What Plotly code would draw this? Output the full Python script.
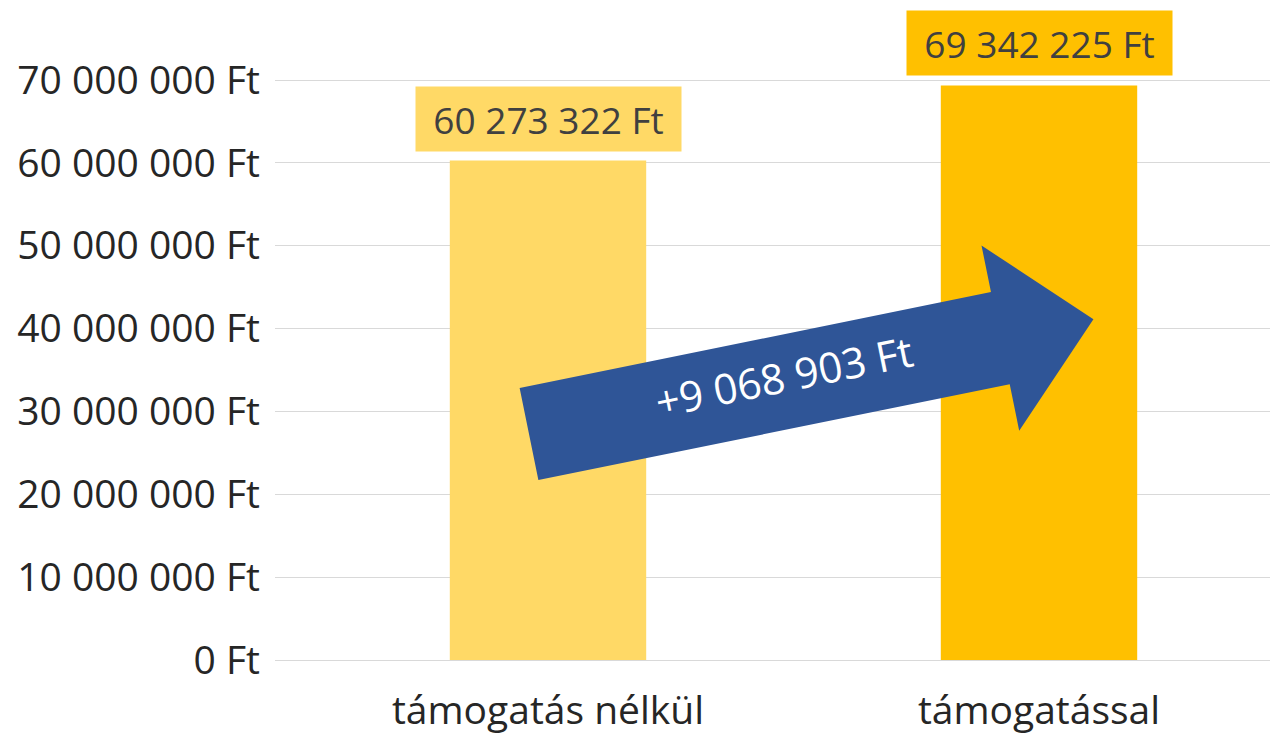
import math
import plotly.graph_objects as go

# ---- data ----
categories = ["támogatás nélkül", "támogatással"]
values = [60273322, 69342225]
bar_colors = ["#FFD966", "#FFC000"]
y_ticks = [0, 10000000, 20000000, 30000000, 40000000, 50000000, 60000000, 70000000]
diff_label = "+9 068 903 Ft"


def fmt_ft(v):
    return f"{v:,}".replace(",", " ") + " Ft"


# page body has an 8px margin; layout targets are given in figure space
W, H = 1278, 738
ML, MR, MT, MB = 267, 0, 0, 86
PW, PH = W - ML - MR, H - MT - MB
PX_PER_CAT = 491.0
CAT0_PX = 540.0
PX_PER_UNIT_Y = 580.0 / 70000000

x0 = -(CAT0_PX - ML) / PX_PER_CAT
x1 = x0 + PW / PX_PER_CAT
ymax = PH / PX_PER_UNIT_Y

fig = go.Figure()
fig.add_trace(go.Bar(
    x=categories, y=values, marker=dict(color=bar_colors, line=dict(width=0)),
    width=0.4, hoverinfo="skip", showlegend=False,
))

# data labels with background boxes
for i, (c, v) in enumerate(zip(categories, values)):
    fig.add_annotation(
        x=c, y=v, xref="x", yref="y", text=fmt_ft(v), showarrow=False,
        yanchor="bottom", yshift=9, width=257, height=56,
        font=dict(family="Open Sans", size=37, color="#404040"),
        bgcolor=bar_colors[i], borderpad=4,
    )

# ---- arrow (decoration), geometry in pixel space -> paper coords ----
tail = (521.0, 426.0)
ang = math.radians(-11.5)
shaft_len, shaft_w, head_w, head_len = 481.0, 94.0, 189.0, 95.0
d = (math.cos(ang), math.sin(ang))
n = (-d[1], d[0])


def pt(along, across):
    px = tail[0] + d[0] * along + n[0] * across
    py = tail[1] + d[1] * along + n[1] * across
    return ((px - ML) / PW, (MT + PH - py) / PH)


pts = [
    pt(0, -shaft_w / 2), pt(shaft_len, -shaft_w / 2), pt(shaft_len, -head_w / 2),
    pt(shaft_len + head_len, 0), pt(shaft_len, head_w / 2), pt(shaft_len, shaft_w / 2),
    pt(0, shaft_w / 2),
]
path = "M " + " L ".join(f"{a:.5f},{b:.5f}" for a, b in pts) + " Z"
fig.add_shape(type="path", path=path, xref="paper", yref="paper",
              fillcolor="#2F5597", line=dict(width=0), layer="above")
tc = pt(262, -6.5)
fig.add_annotation(x=tc[0], y=tc[1], xref="paper", yref="paper", text=diff_label,
                   showarrow=False, textangle=-11.5,
                   font=dict(family="Open Sans", size=42, color="white"))

fig.update_layout(
    width=W, height=H, autosize=False,
    margin=dict(l=ML, r=MR, t=MT, b=MB),
    plot_bgcolor="white", paper_bgcolor="white",
    separators=", ",
    font=dict(family="Open Sans", color="#262626"),
    xaxis=dict(range=[x0, x1], showgrid=False, zeroline=False, showline=False,
               ticks="", tickfont=dict(size=39, color="#262626"), ticklabelstandoff=24),
    yaxis=dict(range=[0, ymax], tickvals=y_ticks, ticktext=[fmt_ft(v) for v in y_ticks],
               showgrid=True, gridcolor="#D9D9D9", gridwidth=1, zeroline=True,
               zerolinecolor="#D9D9D9", zerolinewidth=1, showline=False, ticks="",
               tickfont=dict(size=39, color="#262626"), ticklabelstandoff=14),
)

fig.write_html("out.html")
